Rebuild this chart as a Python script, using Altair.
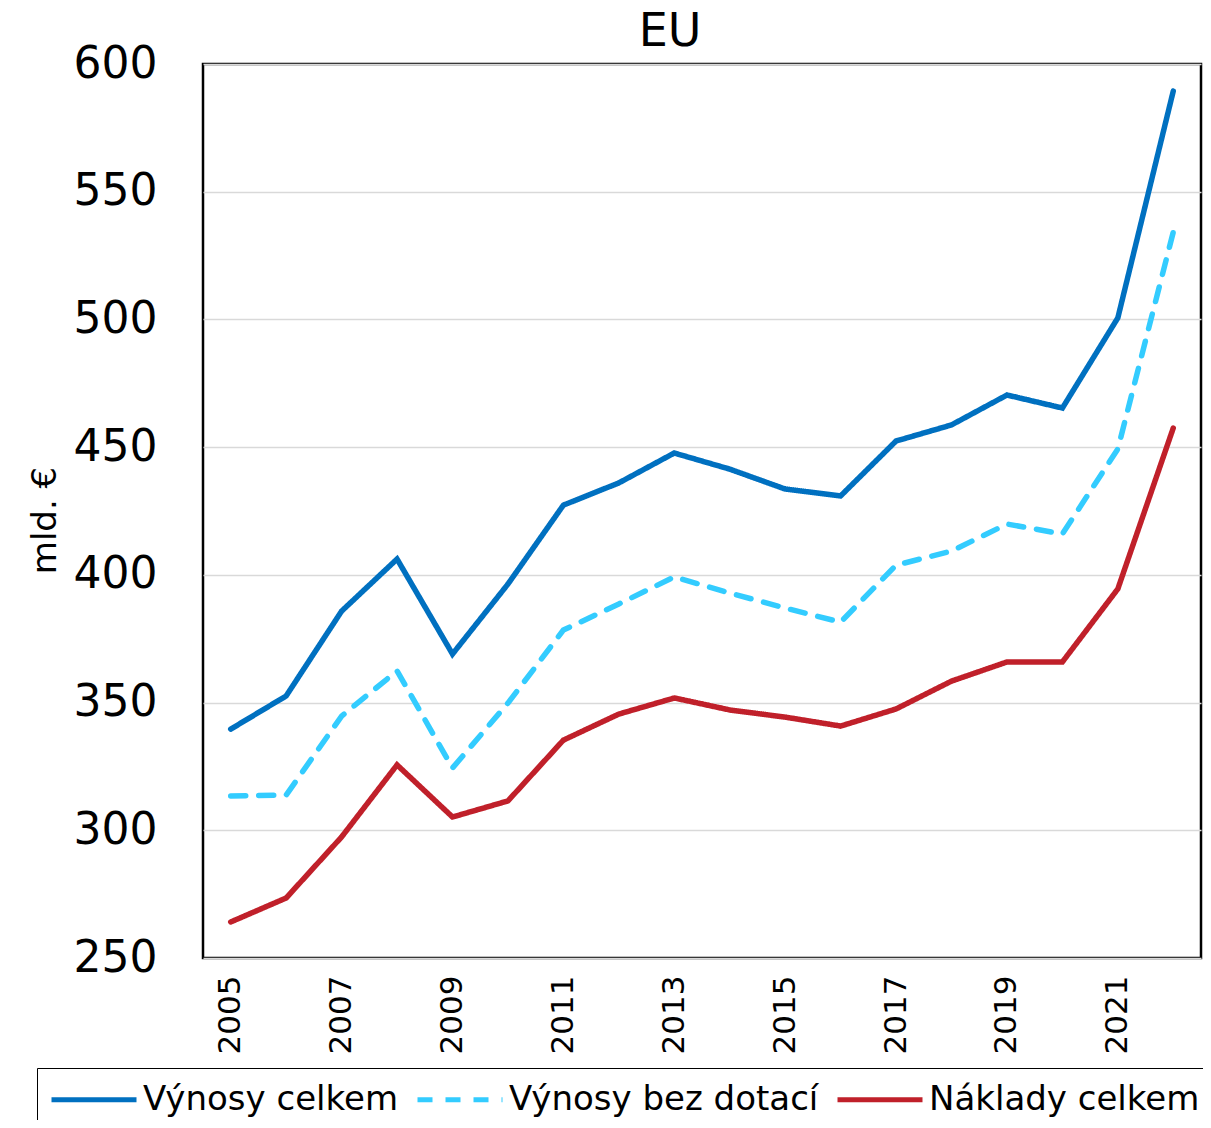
import altair as alt
import pandas as pd

years = list(range(2005, 2023))
vynosy_celkem = [339.6, 352.6, 385.8, 406.2, 369.0, 396.4, 427.3, 436.0, 447.7, 441.4,
                 433.6, 430.9, 452.4, 458.7, 470.4, 465.3, 500.6, 589.4]
vynosy_bez_dotaci = [313.4, 313.8, 344.7, 362.4, 324.4, 349.8, 378.4, 388.6, 399.2, 392.9,
                     387.0, 381.5, 403.8, 409.3, 419.9, 416.0, 449.3, 534.2]
naklady_celkem = [264.1, 273.5, 297.4, 325.6, 305.2, 311.5, 335.3, 345.5, 351.8, 347.1,
                  344.3, 340.8, 347.5, 358.4, 365.9, 365.9, 394.5, 457.5]

series_names = ["Výnosy celkem", "Výnosy bez dotací", "Náklady celkem"]
series_colors = ["#0070C0", "#33CCFF", "#C0202A"]
series_dash = [[1, 0], [15, 13], [1, 0]]
y_ticks = [250, 300, 350, 400, 450, 500, 550, 600]
x_label_years = [y for y in years if y % 2 == 1]

rows = []
for name, vals in zip(series_names, [vynosy_celkem, vynosy_bez_dotaci, naklady_celkem]):
    for yr, v in zip(years, vals):
        rows.append({"rok": yr, "hodnota": v, "řada": name})
df = pd.DataFrame(rows)

FONT = "DejaVu Sans"

legend_cfg = dict(title=None, orient="none", legendX=-166, legendY=1004,
                  direction="horizontal", columns=3,
                  symbolType="M-1,0H4", symbolSize=1156,
                  symbolStrokeWidth=5, labelFont=FONT, labelFontSize=34,
                  labelColor="black", labelOffset=55, columnPadding=8,
                  strokeColor="black", padding=12, labelLimit=400)

chart = alt.Chart(df).mark_line(strokeWidth=5.5, strokeCap="round", strokeJoin="miter").encode(
    x=alt.X("rok:O", scale=alt.Scale(type="point", padding=0.5),
            axis=alt.Axis(values=x_label_years, labelAngle=270, labelAlign="right",
                          labelBaseline="middle", labelFontSize=31, labelFont=FONT,
                          labelColor="black", labelPadding=17, ticks=False, domain=False,
                          grid=False, title=None)),
    y=alt.Y("hodnota:Q", scale=alt.Scale(domain=[250, 600], nice=False, zero=False),
            axis=alt.Axis(values=y_ticks, labelFontSize=44, labelFont=FONT, labelColor="black",
                          labelPadding=46, ticks=False, domain=False, grid=True,
                          gridColor="#D9D9D9", gridWidth=1.5,
                          title="mld. €", titleFont=FONT, titleFontSize=34,
                          titleFontWeight="normal", titleColor="black",
                          titleAngle=270, titleAlign="center", titleBaseline="middle",
                          titleX=-158, titleY=456)),
    color=alt.Color("řada:N", scale=alt.Scale(domain=series_names, range=series_colors),
                    legend=alt.Legend(**legend_cfg)),
    strokeDash=alt.StrokeDash("řada:N", scale=alt.Scale(domain=series_names, range=series_dash),
                              legend=alt.Legend(**legend_cfg)),
    order=alt.Order("rok:O"),
).properties(
    width=998,
    height=894,
    title=alt.TitleParams("EU", font=FONT, fontSize=46, fontWeight="normal", color="black",
                          baseline="alphabetic", offset=19, dx=-32, dy=69, anchor="middle",
                          frame="group"),
    autosize=alt.AutoSizeParams(type="none"),
    padding={"left": 195, "top": 56, "right": 2, "bottom": 162},
    background="white",
).configure_view(
    stroke="black", strokeWidth=2.5
)

chart.save("out.html", embed_options={"renderer": "svg", "actions": False})
